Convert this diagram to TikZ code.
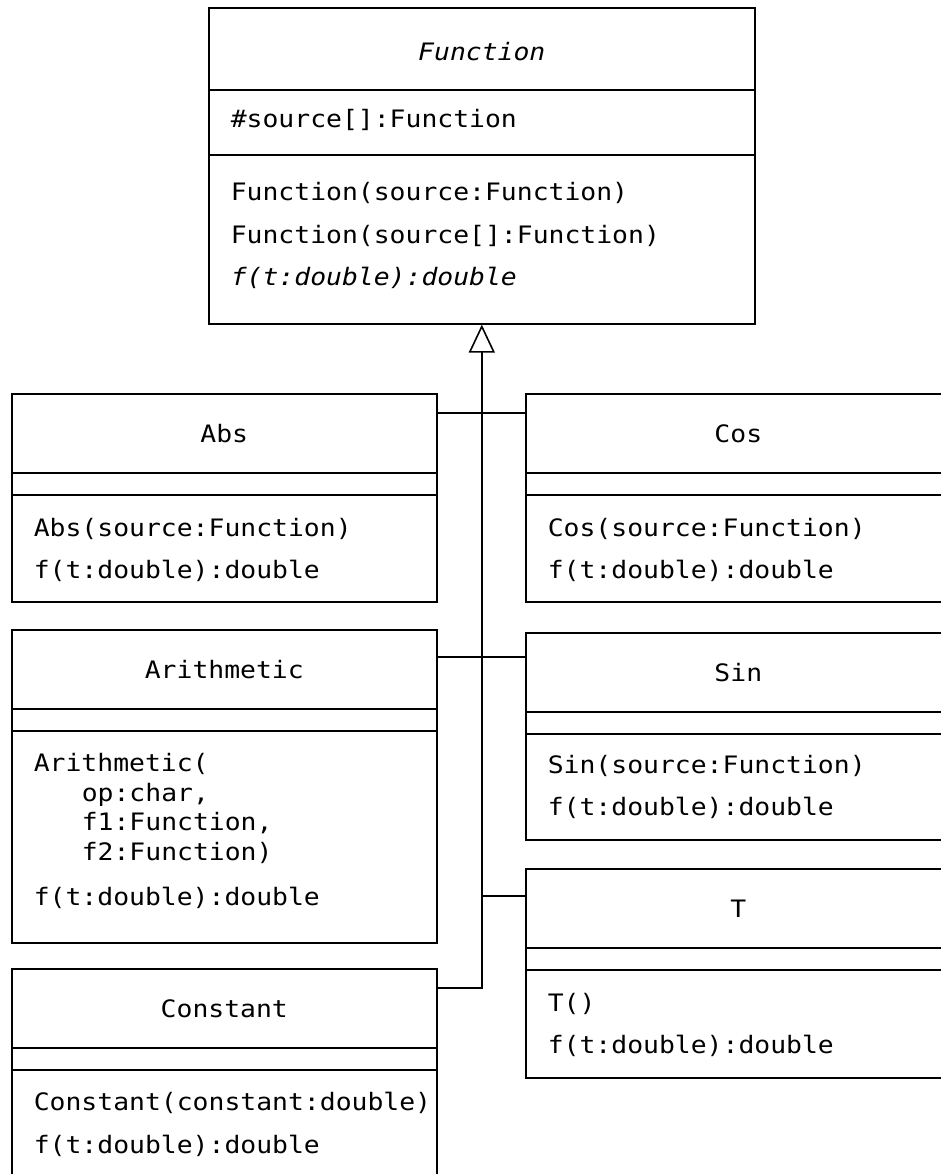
\documentclass[tikz,border=0pt]{standalone}
\usepackage{fontspec}
\newfontfamily\umlfont{DejaVu Sans Mono}[FakeStretch=1.1]
\usetikzlibrary{arrows.meta}

\begin{document}
\begin{tikzpicture}[x=1pt,y=-1pt,line width=1.6pt,
  font=\umlfont\fontsize{24}{29}\selectfont,
  classbox/.style={draw,rectangle,anchor=north west,inner sep=0pt,minimum width=425pt},
  title/.style={anchor=center,inner sep=0pt},
  member/.style={anchor=west,inner sep=0pt,text height=18pt,text depth=5pt},
  inherit/.style={{Triangle[open,length=28pt,width=26pt]}-}]
\useasboundingbox (0,0) rectangle (940,1174);
% class boxes
\node[classbox,minimum width=546pt,minimum height=316pt] (function) at (208,7) {};
\node[classbox,minimum height=208pt] (abs) at (11,393) {};
\node[classbox,minimum height=208pt] (cos) at (525,393) {};
\node[classbox,minimum height=313pt] (arith) at (11,629) {};
\node[classbox,minimum height=207pt] (sin) at (525,632) {};
\node[classbox,minimum height=209pt] (tbox) at (525,868) {};
\node[classbox,minimum height=230pt] (const) at (11,968) {};
% compartments
\draw ([yshift=-83pt]function.north west) -- ([yshift=-83pt]function.north east);
\draw ([yshift=-148pt]function.north west) -- ([yshift=-148pt]function.north east);
\foreach \c in {abs,cos,arith,sin,tbox,const}{
  \draw ([yshift=-80pt]\c.north west) -- ([yshift=-80pt]\c.north east);
  \draw ([yshift=-102pt]\c.north west) -- ([yshift=-102pt]\c.north east);
}
% names
\node[title] (function-name) at ([yshift=-45pt]function.north) {\itshape Function};
\node[title] (abs-name) at ([yshift=-41pt]abs.north) {Abs};
\node[title] (cos-name) at ([yshift=-41pt]cos.north) {Cos};
\node[title] (arith-name) at ([yshift=-41pt]arith.north) {Arithmetic};
\node[title] (sin-name) at ([yshift=-41pt]sin.north) {Sin};
\node[title] (tbox-name) at ([yshift=-41pt]tbox.north) {T};
\node[title] (const-name) at ([yshift=-41pt]const.north) {Constant};
% members
\node[member] (function-attr) at ([xshift=22pt,yshift=-114pt]function.north west) {\#source[]:Function};
\node[member] (function-op1) at ([xshift=22pt,yshift=-187pt]function.north west) {Function(source:Function)};
\node[member] (function-op2) at ([xshift=22pt,yshift=-230pt]function.north west) {Function(source[]:Function)};
\node[member] (function-op3) at ([xshift=22pt,yshift=-272pt]function.north west) {\itshape f(t:double):double};
\node[member] (abs-op1) at ([xshift=22pt,yshift=-137pt]abs.north west) {Abs(source:Function)};
\node[member] (abs-op2) at ([xshift=22pt,yshift=-179pt]abs.north west) {f(t:double):double};
\node[member] (cos-op1) at ([xshift=22pt,yshift=-137pt]cos.north west) {Cos(source:Function)};
\node[member] (cos-op2) at ([xshift=22pt,yshift=-179pt]cos.north west) {f(t:double):double};
\node[member] (arith-op1) at ([xshift=22pt,yshift=-136pt]arith.north west) {Arithmetic(};
\node[member] (arith-arg1) at ([xshift=70pt,yshift=-165.5pt]arith.north west) {op:char,};
\node[member] (arith-arg2) at ([xshift=70pt,yshift=-195pt]arith.north west) {f1:Function,};
\node[member] (arith-arg3) at ([xshift=70pt,yshift=-224.5pt]arith.north west) {f2:Function)};
\node[member] (arith-op2) at ([xshift=22pt,yshift=-270pt]arith.north west) {f(t:double):double};
\node[member] (sin-op1) at ([xshift=22pt,yshift=-135pt]sin.north west) {Sin(source:Function)};
\node[member] (sin-op2) at ([xshift=22pt,yshift=-177pt]sin.north west) {f(t:double):double};
\node[member] (tbox-op1) at ([xshift=22pt,yshift=-137pt]tbox.north west) {T()};
\node[member] (tbox-op2) at ([xshift=22pt,yshift=-179pt]tbox.north west) {f(t:double):double};
\node[member] (const-op1) at ([xshift=22pt,yshift=-136pt]const.north west) {Constant(constant:double)};
\node[member] (const-op2) at ([xshift=22pt,yshift=-179pt]const.north west) {f(t:double):double};
% generalisation
\coordinate (j-abs) at ([yshift=-20pt]abs.north east);
\coordinate (j-arith) at ([yshift=-28pt]arith.north east);
\coordinate (j-tbox) at ([yshift=-28pt]tbox.north west);
\coordinate (j-const) at ([yshift=-20pt]const.north east);
\draw[inherit] (function.south) -- (function.south |- j-const) -- (j-const);
\draw (j-abs) -- (j-abs -| cos.west);
\draw (j-arith) -- (j-arith -| sin.west);
\draw (j-tbox -| function.south) -- (j-tbox);
\end{tikzpicture}
\end{document}
